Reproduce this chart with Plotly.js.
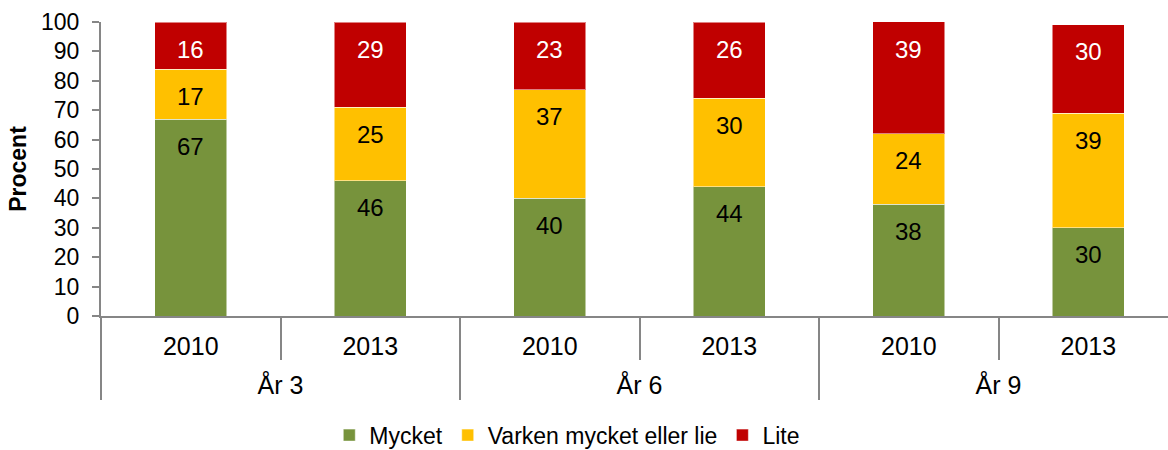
<!DOCTYPE html>
<html>
<head>
<meta charset="utf-8">
<script src="https://cdn.plot.ly/plotly-3.0.1.min.js"></script>
<style>html,body{margin:0;padding:0;background:#fff;overflow:hidden;}#chart{width:1168px;height:450px;}</style>
</head>
<body>
<div id="chart"></div>
<script>
const groups = ["År 3", "År 3", "År 6", "År 6", "År 9", "År 9"];
const years = ["2010", "2013", "2010", "2013", "2010", "2013"];
const mycket = [67, 46, 40, 44, 38, 30];
const varken = [17, 25, 37, 30, 24, 39];
const lite = [16, 29, 23, 26, 39, 30];
const seriesNames = ["Mycket", "Varken mycket eller lie", "Lite"];
const seriesColors = ["#77933C", "#FFC000", "#C00000"];
const labelColors = ["#000000", "#000000", "#FFFFFF"];
const seriesValues = [mycket, varken, lite];

const FONT = "Liberation Sans, Arial, sans-serif";
// symmetric tall non-breaking spaces make the first label row taller,
// so the group row sits lower (as in the reference)
const PAD = "<span style='font-size:40px'>\u00A0</span>";
const yearLabels = years.map(y => PAD + y + PAD);

const traces = seriesValues.map((vals, i) => ({
  type: "bar",
  name: seriesNames[i],
  x: [groups, yearLabels],
  y: vals,
  marker: {color: seriesColors[i], line: {color: "rgba(255,255,255,0.5)", width: 1}},
  width: 0.4,
  hoverinfo: "skip"
}));

// data labels: placed near the top inside each stacked segment
const annotations = [];
const cum = years.map(() => 0);
seriesValues.forEach((vals, s) => {
  vals.forEach((v, i) => {
    cum[i] += v;
    annotations.push({
      x: i, y: Math.min(cum[i], 100), xref: "x", yref: "y",
      text: String(v), showarrow: false,
      yanchor: "middle", xanchor: "center", yshift: -27,
      font: {family: FONT, size: 24, color: labelColors[s]}
    });
  });
});

const layout = {
  width: 1168, height: 450,
  margin: {l: 101, r: 0, t: 22, b: 134},
  barmode: "stack",
  paper_bgcolor: "#fff", plot_bgcolor: "#fff",
  font: {family: FONT, size: 22, color: "#000"},
  showlegend: true,
  legend: {orientation: "h", x: 0.437, xanchor: "center", xref: "paper",
           y: 0.033, yref: "container", yanchor: "middle",
           font: {family: FONT, size: 23, color: "#000"}, itemwidth: 30, traceorder: "normal"},
  annotations: annotations,
  xaxis: {
    type: "multicategory",
    range: [-0.5, 5.444],
    automargin: false,
    showline: true, linecolor: "#868686", linewidth: 2,
    ticks: "outside", tickson: "boundaries", ticklen: 42, tickcolor: "#868686", tickwidth: 2,
    ticklabelstandoff: 7,
    showdividers: true, dividercolor: "#868686", dividerwidth: 2,
    tickfont: {family: FONT, size: 25, color: "#000"},
    showgrid: false, zeroline: false
  },
  yaxis: {
    range: [0, 100], dtick: 10, tick0: 0,
    automargin: false,
    showline: true, linecolor: "#868686", linewidth: 2,
    ticks: "outside", ticklen: 7, tickcolor: "#868686", tickwidth: 2,
    ticklabelstandoff: 8,
    tickfont: {family: FONT, size: 23, color: "#000"},
    showgrid: false, zeroline: false,
    title: {text: "<b>Procent</b>", font: {family: FONT, size: 23, color: "#000"}, standoff: 8}
  }
};

Plotly.newPlot("chart", traces, layout, {staticPlot: true, displayModeBar: false});
</script>
</body>
</html>
